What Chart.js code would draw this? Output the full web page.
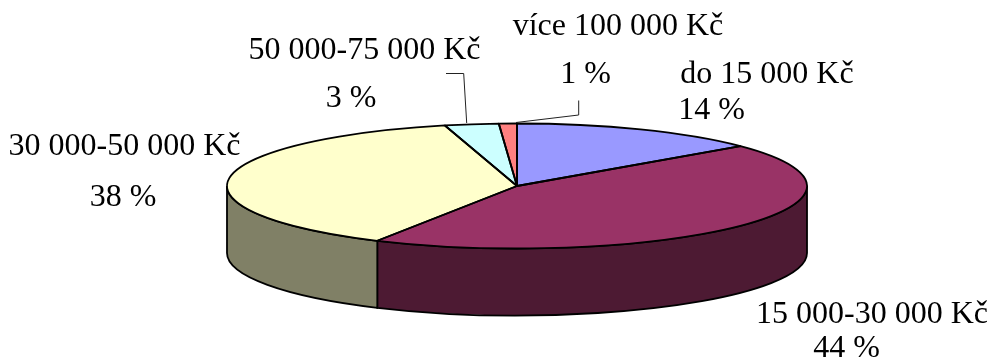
<!DOCTYPE html>
<html>
<head>
<meta charset="utf-8">
<style>
    html, body { margin: 0; padding: 0; background: #ffffff; }
    #wrap { width: 991px; height: 358px; }
</style>
<script src="https://cdn.jsdelivr.net/npm/chart.js@4"></script>
</head>
<body>
<div id="wrap"><canvas id="pie" width="991" height="358"></canvas></div>
<script>
// Income bands and their shares, clockwise from the top of the pie
const categories = ['do 15 000 Kč', '15 000-30 000 Kč', '30 000-50 000 Kč', '50 000-75 000 Kč', 'více 100 000 Kč'];
const shares = [14, 44, 38, 3, 1];
const topColors = ['#9999ff', '#993366', '#ffffcc', '#ccffff', '#ff8080'];
const wallColors = ['#4d4d80', '#4d1a33', '#808066', '#668080', '#804040'];

// Flattened disc: centre, radii and thickness in pixels
const disc = { cx: 517, cy: 186, rx: 290, ry: 62.5, depth: 67 };

// Where each category / percentage pair is written (x is the text centre, y the baseline)
const labelSpots = [
    { x: 767, y: 83, py: 119, px: 711.5 },
    { x: 872, y: 323, py: 357, px: 846.5 },
    { x: 124.5, y: 155, py: 206, px: 123 },
    { x: 364.5, y: 59, py: 107, px: 351 },
    { x: 618, y: 35, py: 83, px: 585.5 }
];

// Leader lines for the two thin slices
const leaders = [
    [[446, 73.5], [463.7, 73.5], [466.7, 123]],
    [[578.7, 100.5], [578.7, 115], [516, 122.5]]
];

function traceSlice(ctx, arc) {
    ctx.beginPath();
    ctx.moveTo(disc.cx, disc.cy);
    ctx.ellipse(disc.cx, disc.cy, disc.rx, disc.ry, 0, arc.startAngle, arc.endAngle);
    ctx.closePath();
}

const discPlugin = {
    id: 'disc',
    beforeDatasetsDraw(chart) {
        const ctx = chart.ctx;
        const arcs = chart.getDatasetMeta(0).data;

        // side wall, only the part of each slice facing the viewer
        arcs.forEach((arc, i) => {
            const from = Math.max(arc.startAngle, 0);
            const to = Math.min(arc.endAngle, Math.PI);
            if (to <= from) return;
            ctx.beginPath();
            ctx.ellipse(disc.cx, disc.cy, disc.rx, disc.ry, 0, from, to);
            ctx.ellipse(disc.cx, disc.cy + disc.depth, disc.rx, disc.ry, 0, to, from, true);
            ctx.closePath();
            ctx.fillStyle = wallColors[i];
            ctx.fill();
            ctx.strokeStyle = '#000000';
            ctx.lineWidth = 1.8;
            ctx.stroke();
        });

        // squash the library's round pie into the top of the disc
        const arc = arcs[0];
        const r = arc.outerRadius;
        ctx.save();
        ctx.translate(disc.cx, disc.cy);
        ctx.scale(disc.rx / r, disc.ry / r);
        ctx.translate(-arc.x, -arc.y);
    },
    afterDatasetsDraw(chart) {
        const ctx = chart.ctx;
        const arcs = chart.getDatasetMeta(0).data;
        ctx.restore();

        // outlines go on after the restore so the line width stays even
        ctx.strokeStyle = '#000000';
        ctx.lineWidth = 1.8;
        ctx.lineJoin = 'round';
        arcs.forEach(arc => {
            traceSlice(ctx, arc);
            ctx.stroke();
        });

        ctx.strokeStyle = '#222222';
        ctx.lineWidth = 1;
        leaders.forEach(points => {
            ctx.beginPath();
            points.forEach((p, i) => i ? ctx.lineTo(p[0], p[1]) : ctx.moveTo(p[0], p[1]));
            ctx.stroke();
        });

        ctx.fillStyle = '#000000';
        ctx.font = '32px "Liberation Serif", "Times New Roman", serif';
        ctx.textAlign = 'center';
        ctx.textBaseline = 'alphabetic';
        categories.forEach((name, i) => {
            const spot = labelSpots[i];
            ctx.fillText(name, spot.x, spot.y);
            ctx.fillText(shares[i] + ' %', spot.px, spot.py);
        });
    }
};

new Chart(document.getElementById('pie').getContext('2d'), {
    type: 'pie',
    data: {
        labels: categories,
        datasets: [{
            data: shares,
            backgroundColor: topColors,
            borderWidth: 0,
            clip: false
        }]
    },
    options: {
        responsive: false,
        animation: false,
        rotation: 0,
        layout: { padding: 0 },
        plugins: {
            legend: { display: false },
            tooltip: { enabled: false }
        }
    },
    plugins: [discPlugin]
});
</script>
</body>
</html>
